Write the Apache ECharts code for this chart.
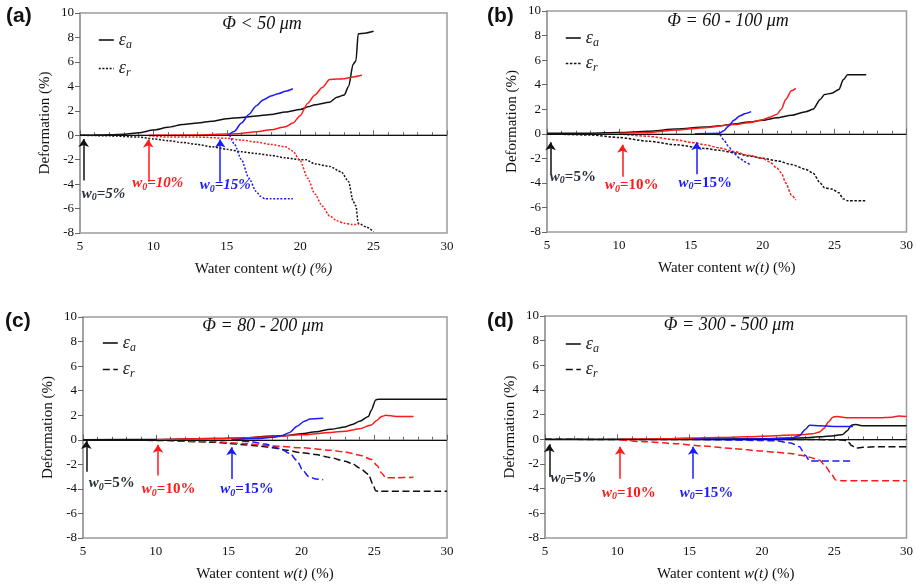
<!DOCTYPE html>
<html><head><meta charset="utf-8">
<script src="https://cdn.jsdelivr.net/npm/echarts@6/dist/echarts.min.js"></script>
<style>html,body{margin:0;padding:0;background:#fff}#c{width:916px;height:586px}</style>
</head><body><div id="c"></div>
<script>
// ---- axes ----
const X_MIN = 5, X_MAX = 30, X_STEP = 5;
const Y_MIN = -8, Y_MAX = 10, Y_STEP = 2;
const PANEL_LABELS = ['(a)', '(b)', '(c)', '(d)'];
const PANEL_TITLES = ['\u03A6 < 50 \u03BCm', '\u03A6 = 60 - 100 \u03BCm', '\u03A6 = 80 - 200 \u03BCm', '\u03A6 = 300 - 500 \u03BCm'];
const W0_TEXTS = ['=5%', '=10%', '=15%'];

// ---- panel (a) ----
const A_EA_5 = [[5,0],[6,0.02],[7,0.03],[8,0.08],[9,0.2],[10,0.42],[11,0.65],[12,0.88],[13,1.0],[14,1.15],[15,1.35],[16,1.45],[17,1.57],[18,1.7],[19,1.9],[20,2.1],[20.6,2.35],[21,2.5],[22,2.7],[22.5,3.1],[23,3.3],[23.3,4.0],[23.6,5.8],[23.8,6.1],[23.95,8.3],[24.4,8.35],[25,8.5]];
const A_ER_5 = [[5,0],[7,-0.05],[9,-0.15],[10,-0.3],[11,-0.45],[12,-0.6],[13,-0.75],[14,-0.95],[15,-1.15],[16,-1.35],[17,-1.5],[18,-1.65],[19,-1.85],[20,-2.0],[20.4,-2.0],[21,-2.35],[22,-2.55],[22.8,-3.0],[23.3,-3.8],[23.6,-5.4],[23.8,-5.8],[23.95,-7.2],[24.5,-7.5],[25,-7.9]];
const A_EA_10 = [[9.7,0],[11,0],[13,0.02],[15,0.1],[16,0.15],[17,0.28],[18,0.45],[19,0.7],[19.5,1.0],[20,1.6],[20.5,2.6],[21,3.3],[21.5,3.9],[22,4.55],[22.5,4.6],[23,4.62],[23.5,4.75],[24.2,4.9]];
const A_ER_10 = [[9.7,-0.05],[11,-0.15],[13,-0.15],[15,-0.25],[16,-0.4],[17,-0.55],[18,-0.75],[19,-0.95],[19.5,-1.3],[20,-2.1],[20.5,-3.5],[21,-4.8],[21.5,-5.8],[22,-6.6],[22.5,-7.0],[23,-7.2],[23.5,-7.3],[24,-7.3]];
const A_EA_15 = [[15.1,0],[15.5,0.3],[16,1.0],[16.5,1.7],[17,2.4],[17.5,2.9],[18,3.2],[18.5,3.4],[19,3.6],[19.5,3.8]];
const A_ER_15 = [[15.2,0],[15.5,-0.7],[16,-2.0],[16.5,-3.5],[17,-4.6],[17.3,-5.0],[17.6,-5.2],[18,-5.2],[19.5,-5.2]];
const A_ARROWS = [[5.25,-3.7,-0.3],[9.65,-3.8,-0.35],[14.55,-3.8,-0.35]];
const A_LABELS = [[6.6,-4.8],[10.3,-3.95],[14.9,-4.1]];

// ---- panel (b) ----
const B_EA_5 = [[5,0.05],[8,0.05],[10,0.1],[12,0.2],[14,0.38],[16,0.55],[17,0.65],[18,0.8],[19,0.95],[20,1.1],[21,1.3],[22,1.5],[23,1.8],[23.5,2.0],[24,2.8],[24.3,3.2],[24.8,3.3],[25.3,3.6],[25.6,4.4],[25.9,4.8],[27.2,4.8]];
const B_ER_5 = [[5,0],[8,-0.1],[10,-0.3],[12,-0.6],[14,-0.9],[16,-1.2],[17,-1.35],[18,-1.55],[19,-1.8],[20,-2.0],[21,-2.2],[22,-2.5],[23,-2.9],[23.5,-3.2],[24,-4.0],[24.3,-4.4],[24.8,-4.5],[25.3,-4.8],[25.6,-5.3],[25.9,-5.45],[27.2,-5.45]];
const B_EA_10 = [[10,0.02],[12,0.1],[14,0.3],[16,0.5],[18,0.75],[19,0.9],[20,1.15],[20.5,1.35],[21,1.6],[21.3,2.0],[21.6,2.8],[22,3.5],[22.3,3.7]];
const B_ER_10 = [[10,0],[12,-0.2],[14,-0.5],[15,-0.7],[16,-0.9],[17,-1.15],[18,-1.45],[19,-1.75],[20,-2.0],[20.5,-2.3],[21,-2.8],[21.3,-3.2],[21.6,-4.0],[22,-5.0],[22.3,-5.4]];
const B_EA_15 = [[15.3,0],[17,0.05],[17.3,0.25],[17.6,0.6],[18,1.1],[18.4,1.45],[18.8,1.65],[19.2,1.8]];
const B_ER_15 = [[15.3,0],[17,-0.05],[17.3,-0.5],[17.6,-1.0],[18,-1.6],[18.4,-2.0],[18.8,-2.3],[19.1,-2.5]];
const B_ARROWS = [[5.25,-3.3,-0.7],[10.25,-3.5,-0.9],[15.4,-3.3,-0.7]];
const B_LABELS = [[6.8,-3.5],[10.9,-4.2],[16.0,-4.0]];

// ---- panel (c) ----
const C_EA_5 = [[5,0],[10,0.02],[14,0.1],[16,0.15],[18,0.3],[19,0.35],[20,0.5],[21,0.65],[22,0.85],[23,1.05],[23.5,1.25],[24,1.5],[24.6,1.9],[24.8,2.4],[25.1,3.25],[25.3,3.3],[30,3.3]];
const C_ER_5 = [[5,0],[10,-0.05],[14,-0.2],[15,-0.3],[16,-0.4],[17,-0.5],[18,-0.65],[19,-0.85],[20,-1.05],[21,-1.2],[22,-1.45],[23,-1.75],[23.5,-1.95],[24,-2.3],[24.6,-2.8],[24.9,-3.6],[25.1,-4.15],[25.3,-4.2],[30,-4.2]];
const C_EA_10 = [[10.1,0],[14,0.1],[16,0.15],[18,0.25],[20,0.4],[22,0.6],[23,0.7],[24,0.9],[24.8,1.2],[25.2,1.6],[25.5,1.9],[25.8,2.0],[26.5,1.9],[27.7,1.9]];
const C_ER_10 = [[10.1,0],[14,-0.15],[16,-0.3],[18,-0.5],[20,-0.65],[22,-0.85],[23,-1.0],[24,-1.25],[24.8,-1.6],[25.2,-2.1],[25.5,-2.7],[25.8,-3.1],[26.5,-3.1],[27.7,-3.05]];
const C_EA_15 = [[15.2,0],[17,0.1],[18,0.2],[18.7,0.35],[19.2,0.6],[19.7,1.1],[20.2,1.5],[20.6,1.7],[21.5,1.75]];
const C_ER_15 = [[15.2,0],[16.5,-0.15],[17.5,-0.35],[18.5,-0.7],[19.2,-1.1],[19.7,-1.7],[20.1,-2.5],[20.5,-3.0],[21,-3.2],[21.5,-3.25]];
const C_ARROWS = [[5.23,-2.6,-0.1],[10.15,-2.9,-0.4],[15.2,-3.2,-0.6]];
const C_LABELS = [[6.97,-3.53],[10.88,-4.05],[16.26,-4.05]];

// ---- panel (d) ----
const D_EA_5 = [[5,0],[15,0.02],[20,0.05],[22,0.08],[23,0.12],[24,0.2],[25,0.3],[25.6,0.4],[25.9,0.7],[26.2,1.15],[26.5,1.2],[27,1.1],[30,1.1]];
const D_ER_5 = [[5,0],[24,-0.02],[25.5,-0.05],[25.9,-0.1],[26.2,-0.5],[26.5,-0.7],[27,-0.65],[28,-0.6],[30,-0.6]];
const D_EA_10 = [[10.2,0],[13,0.05],[15,0.1],[17,0.15],[19,0.2],[21,0.3],[22,0.35],[23,0.4],[23.5,0.45],[24,0.6],[24.3,0.9],[24.6,1.4],[24.9,1.8],[25.2,1.85],[26,1.75],[28,1.75],[29,1.8],[29.5,1.9],[30,1.85]];
const D_ER_10 = [[10.2,-0.05],[12,-0.2],[14,-0.35],[16,-0.55],[18,-0.75],[20,-0.95],[21,-1.05],[22,-1.15],[22.7,-1.3],[23.3,-1.45],[24,-1.7],[24.4,-2.2],[24.8,-2.8],[25.1,-3.3],[25.5,-3.35],[30,-3.35]];
const D_EA_15 = [[15.3,0],[20,0.02],[22,0.1],[22.6,0.3],[23,0.8],[23.3,1.15],[24,1.1],[25,1.05],[26.3,1.05]];
const D_ER_15 = [[15.3,0],[18,-0.05],[20,-0.1],[21,-0.12],[22,-0.3],[22.6,-0.6],[23,-1.3],[23.3,-1.75],[24,-1.75],[26.3,-1.75]];
const D_ARROWS = [[5.3,-3.05,-0.4],[10.2,-3.2,-0.6],[15.25,-3.2,-0.6]];
const D_LABELS = [[6.97,-3.11],[10.8,-4.33],[16.17,-4.33]];

// ---- layout & style (not data) ----
const SERIF = "'Liberation Serif','DejaVu Serif',serif";
const SANS = "'Liberation Sans',Arial,sans-serif";
const GRIDS = [
  {left:80, top:13, width:367, height:220},
  {left:547, top:11, width:362, height:221},
  {left:83, top:317, width:364, height:221},
  {left:545, top:316, width:364, height:222}
];
const TITLE_POS = [[262,24],[728,21],[263,326],[729,325]];
const PLABEL_POS = [[6,6],[487,6],[5,311],[487,311]];
const LEGEND_POS = [[93,26],[560,24],[97,329],[560,330]];
const LEGEND_GAP = [9,6,7,6];
const COLORS = ['#111111', '#ff1a1a', '#1a1aff'];
const LABEL_COLORS = ['#2a2f3a', '#ff1a1a', '#1a1aff'];
const ER_DASH = [[2,1.6],[2.5,1.6],[7,3.5],[7,3.5]];

const PANELS = [
  {key:'a', ea:[A_EA_5,A_EA_10,A_EA_15], er:[A_ER_5,A_ER_10,A_ER_15], arrows:A_ARROWS, labels:A_LABELS},
  {key:'b', ea:[B_EA_5,B_EA_10,B_EA_15], er:[B_ER_5,B_ER_10,B_ER_15], arrows:B_ARROWS, labels:B_LABELS},
  {key:'c', ea:[C_EA_5,C_EA_10,C_EA_15], er:[C_ER_5,C_ER_10,C_ER_15], arrows:C_ARROWS, labels:C_LABELS},
  {key:'d', ea:[D_EA_5,D_EA_10,D_EA_15], er:[D_ER_5,D_ER_10,D_ER_15], arrows:D_ARROWS, labels:D_LABELS}
];

const grid = [], xAxis = [], yAxis = [], series = [], legend = [], graphic = [];

PANELS.forEach((p, i) => {
  grid.push(Object.assign({show:true, borderColor:'#9c9c9c', borderWidth:1.5, backgroundColor:'transparent'}, GRIDS[i]));
  const xName = i === 0 ? '{n|Water content }{i|w(t) (%)}' : '{n|Water content }{i|w(t)}{n| (%)}';
  xAxis.push({
    type:'value', gridIndex:i, min:X_MIN, max:X_MAX, interval:X_STEP,
    axisLine:{show:true, lineStyle:{color:'#9c9c9c', width:1.5}},
    axisTick:{show:true, inside:true, length:5, lineStyle:{color:'#666'}},
    minorTick:{show:true, splitNumber:5, length:3, lineStyle:{color:'#666'}},
    splitLine:{show:false},
    axisLabel:{fontFamily:SERIF, fontSize:13, color:'#111', margin:7},
    name:xName, nameLocation:'middle', nameGap:29,
    nameTextStyle:{rich:{
      n:{fontFamily:SERIF, fontSize:15, color:'#111'},
      i:{fontFamily:SERIF, fontSize:15, fontStyle:'italic', color:'#111'}
    }}
  });
  yAxis.push({
    type:'value', gridIndex:i, min:Y_MIN, max:Y_MAX, interval:Y_STEP,
    axisLine:{show:true, lineStyle:{color:'#9c9c9c', width:1.5}},
    axisTick:{show:true, inside:false, length:5, lineStyle:{color:'#666'}},
    splitLine:{show:false},
    axisLabel:{fontFamily:SERIF, fontSize:13, color:'#111', margin:6},
    name:'Deformation (%)', nameLocation:'middle', nameGap:27,
    nameTextStyle:{fontFamily:SERIF, fontSize:15, color:'#111'}
  });

  for (let k = 0; k < 3; k++) {
    const isBlack = k === 0;
    const sEa = {
      type:'line', name: isBlack ? p.key + '-ea' : p.key + '-ea' + k, xAxisIndex:i, yAxisIndex:i,
      data:p.ea[k], showSymbol:false, symbol:'none', smooth:0.25, smoothMonotone:'x',
      lineStyle:{color:COLORS[k], width:1.5}, itemStyle:{color:COLORS[k]}, z:3, silent:true, animation:false
    };
    const sEr = {
      type:'line', name: isBlack ? p.key + '-er' : p.key + '-er' + k, xAxisIndex:i, yAxisIndex:i,
      data:p.er[k], showSymbol:false, symbol:'none', smooth:0.25, smoothMonotone:'x',
      lineStyle:{color:COLORS[k], width:1.5, type:ER_DASH[i]}, itemStyle:{color:COLORS[k]}, z:3, silent:true, animation:false
    };
    const ar = p.arrows[k];
    sEa.markLine = {
      silent:true, animation:false, symbol:['none','arrow'], symbolSize:8,
      label:{show:false},
      lineStyle:{color:COLORS[k], width:1.5, type:'solid'},
      data: [[{coord:[ar[0], ar[1]]}, {coord:[ar[0], ar[2]]}]].concat(
        isBlack ? [[{coord:[X_MIN,0], lineStyle:{color:'#111', width:1.2}, symbol:'none'}, {coord:[X_MAX,0], symbol:'none'}]] : [])
    };
    const lb = p.labels[k];
    const up = i === 0 ? 'italic' : 'normal';
    sEa.markPoint = {
      silent:true, animation:false, symbol:'circle', symbolSize:0,
      data:[{coord:[lb[0], lb[1]], value:0}],
      label:{show:true, position:'inside', formatter:'{w|w}{s|0}{t|' + W0_TEXTS[k] + '}',
        rich:{
          w:{fontFamily:SERIF, fontSize:15, fontStyle:'italic', fontWeight:'bold', color:LABEL_COLORS[k]},
          s:{fontFamily:SERIF, fontSize:10, fontStyle:'italic', fontWeight:'bold', color:LABEL_COLORS[k], padding:[8,0,0,0]},
          t:{fontFamily:SERIF, fontSize:15, fontStyle:up, fontWeight:'bold', color:LABEL_COLORS[k]}
        }}
    };
    series.push(sEa, sEr);
  }

  legend.push({
    data:[p.key + '-ea', p.key + '-er'], left:LEGEND_POS[i][0], top:LEGEND_POS[i][1],
    orient:'vertical', itemWidth:15, itemHeight:14, itemGap:LEGEND_GAP[i], selectedMode:false,
    itemStyle:{opacity:0, borderWidth:0},
    lineStyle:{width:1.6},
    formatter: n => '{e|\u03B5}{s|' + (n.slice(-2) === 'ea' ? 'a' : 'r') + '}',
    textStyle:{rich:{
      e:{fontFamily:SERIF, fontSize:18, fontStyle:'italic', color:'#222'},
      s:{fontFamily:SERIF, fontSize:12, fontStyle:'italic', color:'#222', padding:[9,0,0,0]}
    }}
  });

  graphic.push({type:'text', left:PLABEL_POS[i][0], top:PLABEL_POS[i][1],
    style:{text:PANEL_LABELS[i], font:'bold 21px ' + SANS, fill:'#111'}});
  graphic.push({type:'text', x:TITLE_POS[i][0], y:TITLE_POS[i][1],
    style:{text:PANEL_TITLES[i], font:'italic 18px ' + SERIF, fill:'#111', textAlign:'center', textVerticalAlign:'middle'}});
});

const chart = echarts.init(document.getElementById('c'), null, {renderer:'canvas'});
chart.setOption({animation:false, backgroundColor:'#fff', grid, xAxis, yAxis, series, legend, graphic});
</script>
</body></html>
